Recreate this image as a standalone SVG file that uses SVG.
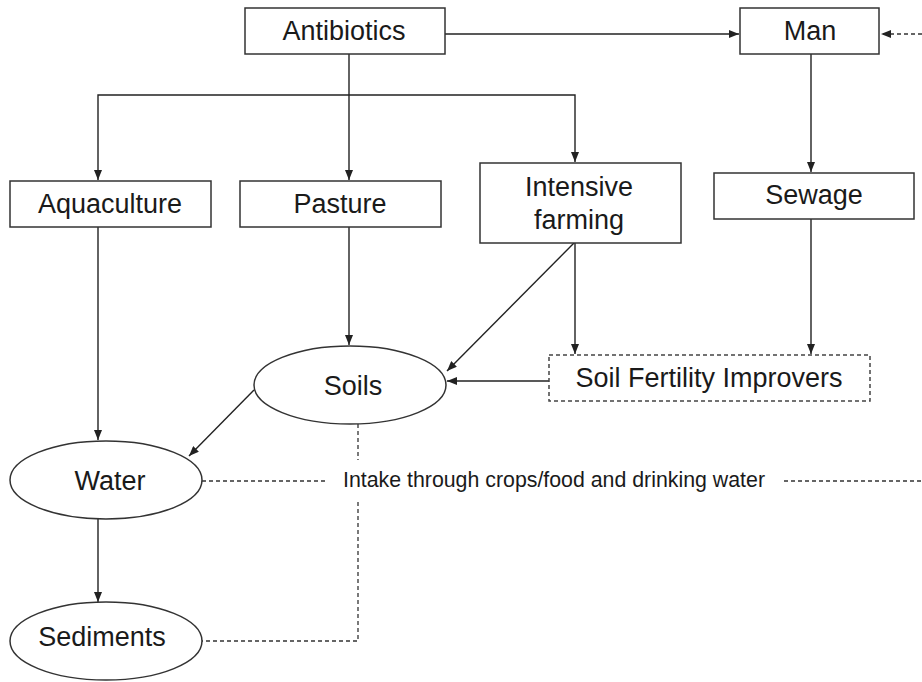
<svg xmlns="http://www.w3.org/2000/svg" width="922" height="682" viewBox="0 0 922 682">
<style>
.box{fill:#fff;stroke:#333;stroke-width:1.5}
.dbox{fill:#fff;stroke:#444;stroke-width:1.5;stroke-dasharray:4 3}
.ell{fill:#fff;stroke:#333;stroke-width:1.5}
.t{font-family:"Liberation Sans",Arial,sans-serif;font-size:27px;fill:#1a1a1a;text-anchor:middle}
.lbl{font-family:"Liberation Sans",Arial,sans-serif;font-size:22px;fill:#1a1a1a}
.c{fill:none;stroke:#222;stroke-width:1.4}
.d{fill:none;stroke:#333;stroke-width:1.3;stroke-dasharray:4 3}
</style>
<defs>
<marker id="ah" markerUnits="userSpaceOnUse" markerWidth="10" markerHeight="8" refX="10" refY="4" orient="auto">
<path d="M0,0 L10,4 L0,8 z" fill="#222"/>
</marker>
</defs>
<g id="connectors">
<path class="c" d="M445,34 H739" marker-end="url(#ah)"/>
<path class="c" d="M349,54 V180" marker-end="url(#ah)"/>
<path class="c" d="M349,95 H98 V180" marker-end="url(#ah)"/>
<path class="c" d="M349,95 H575 V162" marker-end="url(#ah)"/>
<path class="c" d="M811,54 V172" marker-end="url(#ah)"/>
<path class="c" d="M98,227 V440" marker-end="url(#ah)"/>
<path class="c" d="M349,227 V345" marker-end="url(#ah)"/>
<path class="c" d="M574,243 L447,371" marker-end="url(#ah)"/>
<path class="c" d="M575,243 V354" marker-end="url(#ah)"/>
<path class="c" d="M811,219 V354" marker-end="url(#ah)"/>
<path class="c" d="M549,381 H447" marker-end="url(#ah)"/>
<path class="c" d="M254,390 L189,456" marker-end="url(#ah)"/>
<path class="c" d="M98,519 V602" marker-end="url(#ah)"/>
<path class="d" d="M922,34 H881" marker-end="url(#ah)"/>
<path class="d" d="M202,481 H327"/>
<path class="d" d="M784,481 H922"/>
<path class="d" d="M358,424 V460"/>
<path class="d" d="M358,502 V641 H202"/>
</g>
<g id="antibiotics">
<rect class="box" x="245" y="8" width="200" height="46"/>
<text class="t" x="344" y="40">Antibiotics</text>
</g>
<g id="man">
<rect class="box" x="740" y="8" width="139" height="46"/>
<text class="t" x="810" y="40">Man</text>
</g>
<g id="aquaculture">
<rect class="box" x="10" y="181" width="201" height="46"/>
<text class="t" x="110" y="213">Aquaculture</text>
</g>
<g id="pasture">
<rect class="box" x="240" y="181" width="201" height="46"/>
<text class="t" x="340" y="213">Pasture</text>
</g>
<g id="intensive-farming">
<rect class="box" x="480" y="163" width="201" height="80"/>
<text class="t" x="579" y="196">Intensive</text>
<text class="t" x="579" y="229">farming</text>
</g>
<g id="sewage">
<rect class="box" x="714" y="173" width="200" height="46"/>
<text class="t" x="814" y="204">Sewage</text>
</g>
<g id="soils">
<ellipse class="ell" cx="350" cy="385" rx="96" ry="39"/>
<text class="t" x="353" y="395">Soils</text>
</g>
<g id="soil-fertility-improvers">
<rect class="dbox" x="549" y="355" width="321" height="46"/>
<text class="t" x="709" y="387">Soil Fertility Improvers</text>
</g>
<g id="water">
<ellipse class="ell" cx="106" cy="480" rx="96" ry="39"/>
<text class="t" x="110" y="490">Water</text>
</g>
<g id="sediments">
<ellipse class="ell" cx="106" cy="641" rx="96" ry="39"/>
<text class="t" x="102" y="646">Sediments</text>
</g>
<g id="intake-label">
<text class="lbl" x="343" y="487" textLength="422" lengthAdjust="spacingAndGlyphs">Intake through crops/food and drinking water</text>
</g>
</svg>
